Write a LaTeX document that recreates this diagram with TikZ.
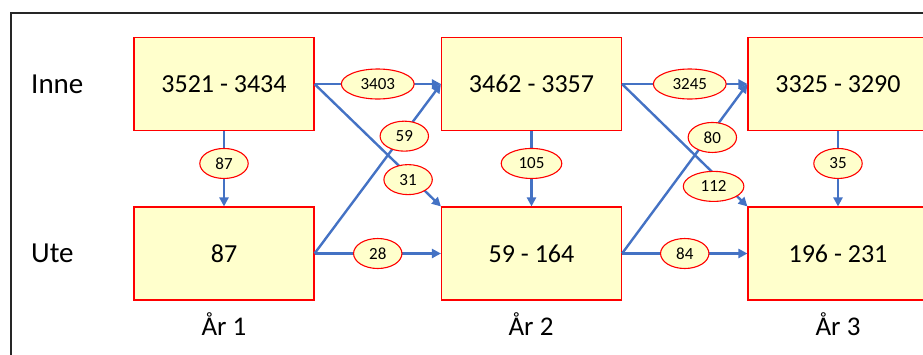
\documentclass[tikz,border=0pt]{standalone}
\usepackage{fontspec}
\setmainfont{Carlito}
\usepackage{tikz}
\usetikzlibrary{shapes,arrows.meta}

\definecolor{boxfill}{HTML}{FFFFCC}
\definecolor{flowblue}{HTML}{4472C4}

\tikzset{
  stockbox/.style={draw=red, fill=boxfill, line width=1.1pt, minimum width=180pt, minimum height=93pt, inner sep=0pt, font=\fontsize{26}{30}\selectfont},
  flowline/.style={draw=flowblue, line width=2.4pt, -{Triangle[length=9pt,width=9pt]}},
  flowlab/.style={ellipse, draw=red, fill=boxfill, line width=1.1pt, inner xsep=8.5pt, inner ysep=0pt, minimum height=30pt, font=\fontsize{17}{19}\selectfont},
  rowlab/.style={font=\fontsize{29}{33}\selectfont, anchor=west, inner sep=0pt},
  yearlab/.style={font=\fontsize{27}{31}\selectfont, inner sep=0pt},
}

\begin{document}
\begin{tikzpicture}[x=1pt,y=1pt,yscale=-1]
    \useasboundingbox (0,0) rectangle (923,354);
    \clip (0,0) rectangle (923,354);

    %Shape: Frame
    \draw [line width=2pt, black!85] (11,12.5) rectangle (960,380);

    % Boxes, row Inne
    \node [stockbox] (in1) at (224,84) {3521 - 3434};
    \node [stockbox] (in2) at (531.5,84) {3462 - 3357};
    \node [stockbox] (in3) at (838,84) {3325 - 3290};
    % Boxes, row Ute
    \node [stockbox] (ut1) at (224,253.5) {87};
    \node [stockbox] (ut2) at (531.5,253.5) {59 - 164};
    \node [stockbox] (ut3) at (838,253.5) {196 - 231};

    % Text Node
    \node [rowlab] (inne) at (31,84) {Inne};
    % Text Node
    \node [rowlab] (ute) at (31,253) {Ute};
    % Text Node
    \node [yearlab] (ar1) at (224,324) {År 1};
    % Text Node
    \node [yearlab] (ar2) at (531,324) {År 2};
    % Text Node
    \node [yearlab] (ar3) at (838,324) {År 3};

    % Flows, year 1 to year 2
    \draw [flowline] (in1.south) -- node [flowlab, pos=.43] (f87) {87} (ut1.north);
    \draw [flowline] (in1.east) -- node [flowlab, pos=.5] (f3403) {3403} (in2.west);
    \draw [flowline] (in1.east) -- node [flowlab, pos=.74, yshift=-5pt] (f31) {31} (ut2.north west);
    \draw [flowline] (ut1.east) -- node [flowlab, pos=.71, yshift=-3pt] (f59) {59} (in2.west);
    \draw [flowline] (ut1.east) -- node [flowlab, pos=.5] (f28) {28} (ut2.west);

    % Flows, year 2 to year 3
    \draw [flowline] (in2.south) -- node [flowlab, pos=.43] (f105) {105} (ut2.north);
    \draw [flowline] (in2.east) -- node [flowlab, pos=.54] (f3245) {3245} (in3.west);
    \draw [flowline] (in2.east) -- node [flowlab, pos=.73, yshift=-13pt] (f112) {112} (ut3.north west);
    \draw [flowline] (ut2.east) -- node [flowlab, pos=.72, yshift=-6pt] (f80) {80} (in3.west);
    \draw [flowline] (ut2.east) -- node [flowlab, pos=.5] (f84) {84} (ut3.west);

    % Flow within year 3
    \draw [flowline] (in3.south) -- node [flowlab, pos=.43] (f35) {35} (ut3.north);

\end{tikzpicture}
\end{document}
